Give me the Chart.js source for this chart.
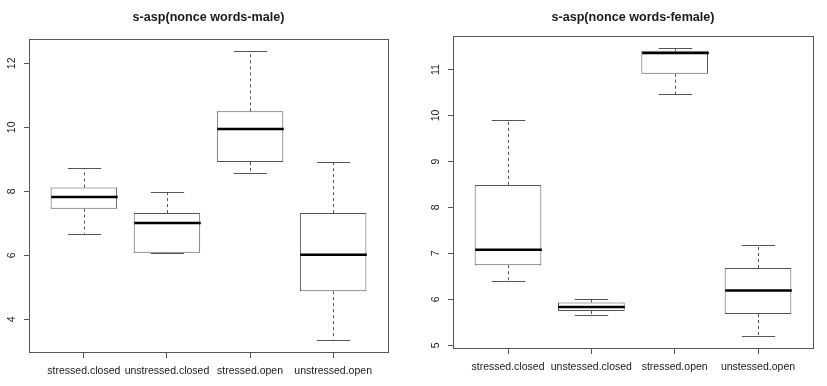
<!DOCTYPE html>
<html>
<head>
<meta charset="utf-8">
<script src="https://cdn.jsdelivr.net/npm/chart.js@4.4.1/dist/chart.umd.min.js"></script>
<style>
  html, body { margin: 0; padding: 0; background: #fff; }
  #wrap { position: relative; width: 827px; height: 386px; overflow: hidden; }
  canvas { position: absolute; top: 0; }
</style>
</head>
<body>
<div id="wrap">
  <canvas id="male" width="413" height="386" style="left:0"></canvas>
  <canvas id="female" width="414" height="386" style="left:413px"></canvas>
</div>
<script>
const maleCategories = ['stressed.closed', 'unstressed.closed', 'stressed.open', 'unstressed.open'];
const femaleCategories = ['stressed.closed', 'unstessed.closed', 'stressed.open', 'unstessed.open'];

const maleMin = [6.68, 6.07, 8.57, 3.37];
const maleQ1 = [7.46, 6.08, 8.92, 4.88];
const maleMedian = [7.82, 7.01, 9.95, 6.02];
const maleQ3 = [8.12, 7.32, 10.5, 7.32];
const maleMax = [8.72, 7.98, 12.38, 8.92];

const femaleMin = [6.40, 5.66, 10.46, 5.20];
const femaleQ1 = [6.74, 5.745, 10.91, 5.68];
const femaleMedian = [7.08, 5.83, 11.36, 6.19];
const femaleQ3 = [8.49, 5.93, 11.41, 6.68];
const femaleMax = [9.90, 6.01, 11.46, 7.19];

const maleYTicks = [4, 6, 8, 10, 12];
const femaleYTicks = [5, 6, 7, 8, 9, 10, 11];
const maleYRange = [2.98, 12.76];
const femaleYRange = [4.94, 11.73];
const xRange = [0.34, 4.66];

const family = "'Liberation Sans', Arial, sans-serif";
const lineColor = '#555';
const textColor = '#1a1a1a';

const boxPlugin = (stats) => ({
  id: 'boxWhiskers',
  afterDatasetsDraw(chart) {
    const { ctx, scales: { x, y } } = chart;
    const meta = chart.getDatasetMeta(0);
    ctx.save();
    stats.median.forEach((med, i) => {
      const half = meta.data[i].width / 2;
      const cx = Math.round(x.getPixelForValue(i + 1)) + 0.5;
      const yMin = y.getPixelForValue(stats.min[i]);
      const yMax = y.getPixelForValue(stats.max[i]);
      const yQ1 = y.getPixelForValue(stats.q1[i]);
      const yQ3 = y.getPixelForValue(stats.q3[i]);

      // dashed whiskers
      ctx.strokeStyle = lineColor;
      ctx.lineWidth = 1;
      ctx.setLineDash([3, 3]);
      ctx.beginPath();
      ctx.moveTo(cx, yQ3);
      ctx.lineTo(cx, yMax);
      ctx.moveTo(cx, yQ1);
      ctx.lineTo(cx, yMin);
      ctx.stroke();

      // caps
      ctx.setLineDash([]);
      ctx.beginPath();
      ctx.moveTo(cx - half / 2, Math.round(yMax) + 0.5);
      ctx.lineTo(cx + half / 2, Math.round(yMax) + 0.5);
      ctx.moveTo(cx - half / 2, Math.round(yMin) + 0.5);
      ctx.lineTo(cx + half / 2, Math.round(yMin) + 0.5);
      ctx.stroke();

      // median
      ctx.strokeStyle = '#000';
      ctx.lineWidth = 2.5;
      ctx.beginPath();
      ctx.moveTo(cx - half, y.getPixelForValue(med));
      ctx.lineTo(cx + half, y.getPixelForValue(med));
      ctx.stroke();
    });
    ctx.restore();
  }
});

const framePlugin = {
  id: 'frame',
  afterDraw(chart) {
    const { ctx, chartArea: a } = chart;
    ctx.save();
    ctx.strokeStyle = lineColor;
    ctx.lineWidth = 1;
    ctx.strokeRect(Math.round(a.left) + 0.5, Math.round(a.top) + 0.5,
      Math.round(a.right - a.left), Math.round(a.bottom - a.top));
    ctx.restore();
  }
};

const makeChart = (id, title, categories, stats, yRange, yTicks, layout) => new Chart(document.getElementById(id), {
  type: 'bar',
  data: {
    datasets: [{
      data: categories.map((c, i) => ({ x: i + 1, y: [stats.q1[i], stats.q3[i]] })),
      backgroundColor: '#fff',
      borderColor: lineColor,
      borderWidth: 1,
      borderSkipped: false,
      categoryPercentage: 1,
      barPercentage: 0.8
    }]
  },
  options: {
    responsive: false,
    animation: false,
    devicePixelRatio: 1,
    layout: { padding: { left: 0, right: layout.right, top: 0, bottom: 0 } },
    plugins: {
      legend: { display: false },
      tooltip: { enabled: false },
      title: {
        display: true,
        text: title,
        fullSize: false,
        color: textColor,
        font: { family, size: 12.6, weight: 'bold' },
        padding: { top: 9.5, bottom: layout.titleBottom }
      }
    },
    scales: {
      x: {
        type: 'linear',
        min: xRange[0],
        max: xRange[1],
        offset: false,
        grid: { offset: false, drawOnChartArea: false, tickLength: 6, color: lineColor },
        border: { color: lineColor },
        afterBuildTicks: (s) => { s.ticks = categories.map((c, i) => ({ value: i + 1 })); },
        afterFit: (s) => { s.height = layout.xHeight; },
        ticks: {
          autoSkip: false,
          minRotation: 0,
          maxRotation: 0,
          padding: 7,
          color: textColor,
          font: { family, size: 10.5 },
          callback: (v) => categories[v - 1]
        }
      },
      y: {
        min: yRange[0],
        max: yRange[1],
        beginAtZero: false,
        grid: { drawOnChartArea: false, tickLength: 5, color: lineColor },
        border: { color: lineColor },
        afterBuildTicks: (s) => { s.ticks = yTicks.map((v) => ({ value: v })); },
        afterFit: (s) => { s.width = layout.yWidth; },
        ticks: {
          minRotation: 90,
          maxRotation: 90,
          crossAlign: 'center',
          padding: 6,
          color: textColor,
          font: { family, size: 10.5 }
        }
      }
    }
  },
  plugins: [boxPlugin(stats), framePlugin]
});

makeChart('male', 's-asp(nonce words-male)', maleCategories,
  { min: maleMin, q1: maleQ1, median: maleMedian, q3: maleQ3, max: maleMax },
  maleYRange, maleYTicks, { right: 25, titleBottom: 14.4, xHeight: 34, yWidth: 29 });

makeChart('female', 's-asp(nonce words-female)', femaleCategories,
  { min: femaleMin, q1: femaleQ1, median: femaleMedian, q3: femaleQ3, max: femaleMax },
  femaleYRange, femaleYTicks, { right: 14, titleBottom: 11.4, xHeight: 38, yWidth: 40 });
</script>
</body>
</html>
